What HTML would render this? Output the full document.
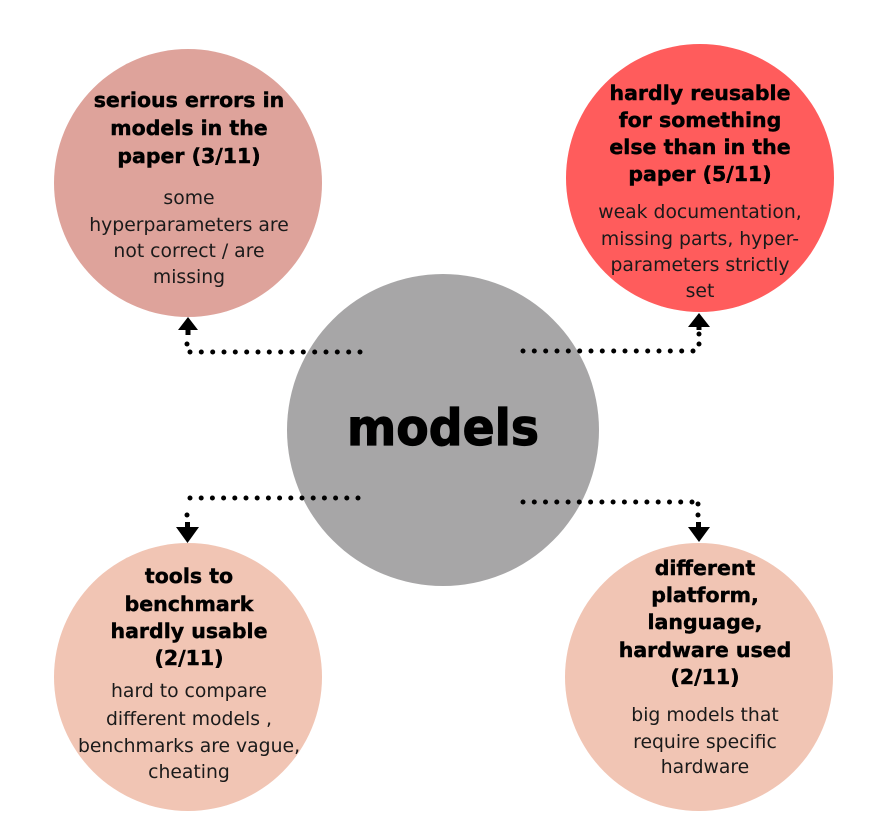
<!DOCTYPE html>
<html>
<head>
<meta charset="utf-8">
<style>
  html, body { margin: 0; padding: 0; background: #ffffff; }
  body { width: 889px; height: 839px; overflow: hidden; }
  svg { display: block; }
  .t { font-family: "DejaVu Sans", "Liberation Sans", sans-serif; font-weight: bold; font-size: 20.5px; fill: #000; stroke: #000; stroke-width: 0.45px; }
  .b { font-family: "DejaVu Sans", "Liberation Sans", sans-serif; font-size: 18.8px; fill: #1a1a1a; }
  .c { font-family: "DejaVu Sans", "Liberation Sans", sans-serif; font-weight: bold; font-size: 50px; fill: #000; stroke: #000; stroke-width: 1.2px; }
</style>
</head>
<body>
<svg width="889" height="839" viewBox="0 0 889 839" xmlns="http://www.w3.org/2000/svg">
  <rect width="889" height="839" fill="#ffffff"/>

  <!-- circles -->
  <circle cx="188" cy="183" r="134" fill="#dea39b"/>
  <circle cx="700" cy="178" r="134" fill="#ff5c5c"/>
  <circle cx="443" cy="430" r="156" fill="#a7a6a7"/>
  <circle cx="188" cy="677" r="134" fill="#f1c5b4"/>
  <circle cx="699" cy="677" r="134" fill="#f1c5b4"/>

  <!-- connector dots -->
  <g fill="#000">
    <!-- top-left horizontal y=352 -->
    <circle cx="190" cy="352" r="2.5"/><circle cx="201.3" cy="352" r="2.5"/><circle cx="212.7" cy="352" r="2.5"/><circle cx="224" cy="352" r="2.5"/>
    <circle cx="235.3" cy="352" r="2.5"/><circle cx="246.7" cy="352" r="2.5"/><circle cx="258" cy="352" r="2.5"/><circle cx="269.3" cy="352" r="2.5"/>
    <circle cx="280.7" cy="352" r="2.5"/><circle cx="292" cy="352" r="2.5"/><circle cx="303.3" cy="352" r="2.5"/><circle cx="314.7" cy="352" r="2.5"/>
    <circle cx="326" cy="352" r="2.5"/><circle cx="337.3" cy="352" r="2.5"/><circle cx="348.7" cy="352" r="2.5"/><circle cx="360" cy="352" r="2.5"/>
    <circle cx="187" cy="344" r="2.5"/>
    <polygon points="188,317 198,330 178,330"/>
    <rect x="185.5" y="328" width="5" height="7"/>

    <!-- top-right horizontal y=351 -->
    <circle cx="523" cy="351" r="2.5"/><circle cx="534.3" cy="351" r="2.5"/><circle cx="545.7" cy="351" r="2.5"/><circle cx="557" cy="351" r="2.5"/>
    <circle cx="568.3" cy="351" r="2.5"/><circle cx="579.7" cy="351" r="2.5"/><circle cx="591" cy="351" r="2.5"/><circle cx="602.3" cy="351" r="2.5"/>
    <circle cx="613.7" cy="351" r="2.5"/><circle cx="625" cy="351" r="2.5"/><circle cx="636.3" cy="351" r="2.5"/><circle cx="647.7" cy="351" r="2.5"/>
    <circle cx="659" cy="351" r="2.5"/><circle cx="670.3" cy="351" r="2.5"/><circle cx="681.7" cy="351" r="2.5"/><circle cx="693" cy="351" r="2.5"/>
    <circle cx="699" cy="344" r="2.5"/>
    <circle cx="699" cy="334" r="2.5"/>
    <polygon points="699,313 710,327 688,327"/>
    <rect x="696.5" y="325" width="5" height="5"/>

    <!-- bottom-left horizontal y=498 -->
    <circle cx="190" cy="498" r="2.5"/><circle cx="201.2" cy="498" r="2.5"/><circle cx="212.4" cy="498" r="2.5"/><circle cx="223.6" cy="498" r="2.5"/>
    <circle cx="234.8" cy="498" r="2.5"/><circle cx="246" cy="498" r="2.5"/><circle cx="257.2" cy="498" r="2.5"/><circle cx="268.4" cy="498" r="2.5"/>
    <circle cx="279.6" cy="498" r="2.5"/><circle cx="290.8" cy="498" r="2.5"/><circle cx="302" cy="498" r="2.5"/><circle cx="313.2" cy="498" r="2.5"/>
    <circle cx="324.4" cy="498" r="2.5"/><circle cx="335.6" cy="498" r="2.5"/><circle cx="346.8" cy="498" r="2.5"/><circle cx="358" cy="498" r="2.5"/>
    <circle cx="187" cy="515" r="2.5"/>
    <rect x="185" y="522" width="5" height="7"/>
    <polygon points="176,527 199,527 187.5,543"/>

    <!-- bottom-right horizontal y=502 -->
    <circle cx="523" cy="502" r="2.5"/><circle cx="534.3" cy="502" r="2.5"/><circle cx="545.5" cy="502" r="2.5"/><circle cx="556.8" cy="502" r="2.5"/>
    <circle cx="568.1" cy="502" r="2.5"/><circle cx="579.3" cy="502" r="2.5"/><circle cx="590.6" cy="502" r="2.5"/><circle cx="601.9" cy="502" r="2.5"/>
    <circle cx="613.1" cy="502" r="2.5"/><circle cx="624.4" cy="502" r="2.5"/><circle cx="635.7" cy="502" r="2.5"/><circle cx="646.9" cy="502" r="2.5"/>
    <circle cx="658.2" cy="502" r="2.5"/><circle cx="669.5" cy="502" r="2.5"/><circle cx="680.7" cy="502" r="2.5"/><circle cx="692" cy="502" r="2.5"/>
    <circle cx="698" cy="504" r="2.5"/>
    <circle cx="698" cy="515" r="2.5"/>
    <rect x="696" y="522" width="5" height="7"/>
    <polygon points="688,527 710,527 699,542"/>
  </g>

  <!-- center label -->
  <text class="c" x="443" y="445" text-anchor="middle" textLength="192" lengthAdjust="spacingAndGlyphs">models</text>

  <!-- top-left -->
  <g text-anchor="middle">
    <text class="t" x="189" y="107">serious errors in</text>
    <text class="t" x="189" y="135">models in the</text>
    <text class="t" x="189" y="163">paper (3/11)</text>
    <text class="b" x="189" y="204">some</text>
    <text class="b" x="189" y="231">hyperparameters are</text>
    <text class="b" x="189" y="257">not correct / are</text>
    <text class="b" x="189" y="283">missing</text>
  </g>

  <!-- top-right -->
  <g text-anchor="middle">
    <text class="t" x="700" y="100">hardly reusable</text>
    <text class="t" x="700" y="127">for something</text>
    <text class="t" x="700" y="154">else than in the</text>
    <text class="t" x="700" y="181">paper (5/11)</text>
    <text class="b" x="700" y="218">weak documentation,</text>
    <text class="b" x="700" y="245">missing parts, hyper-</text>
    <text class="b" x="700" y="271">parameters strictly</text>
    <text class="b" x="700" y="297">set</text>
  </g>

  <!-- bottom-left -->
  <g text-anchor="middle">
    <text class="t" x="189" y="583">tools to</text>
    <text class="t" x="189" y="611">benchmark</text>
    <text class="t" x="189" y="638">hardly usable</text>
    <text class="t" x="189" y="665">(2/11)</text>
    <text class="b" x="189" y="697">hard to compare</text>
    <text class="b" x="189" y="725">different models ,</text>
    <text class="b" x="189" y="752">benchmarks are vague,</text>
    <text class="b" x="189" y="778">cheating</text>
  </g>

  <!-- bottom-right -->
  <g text-anchor="middle">
    <text class="t" x="705" y="575">different</text>
    <text class="t" x="705" y="602">platform,</text>
    <text class="t" x="705" y="629">language,</text>
    <text class="t" x="705" y="657">hardware used</text>
    <text class="t" x="705" y="684">(2/11)</text>
    <text class="b" x="705" y="721">big models that</text>
    <text class="b" x="705" y="748">require specific</text>
    <text class="b" x="705" y="773">hardware</text>
  </g>
</svg>
</body>
</html>
